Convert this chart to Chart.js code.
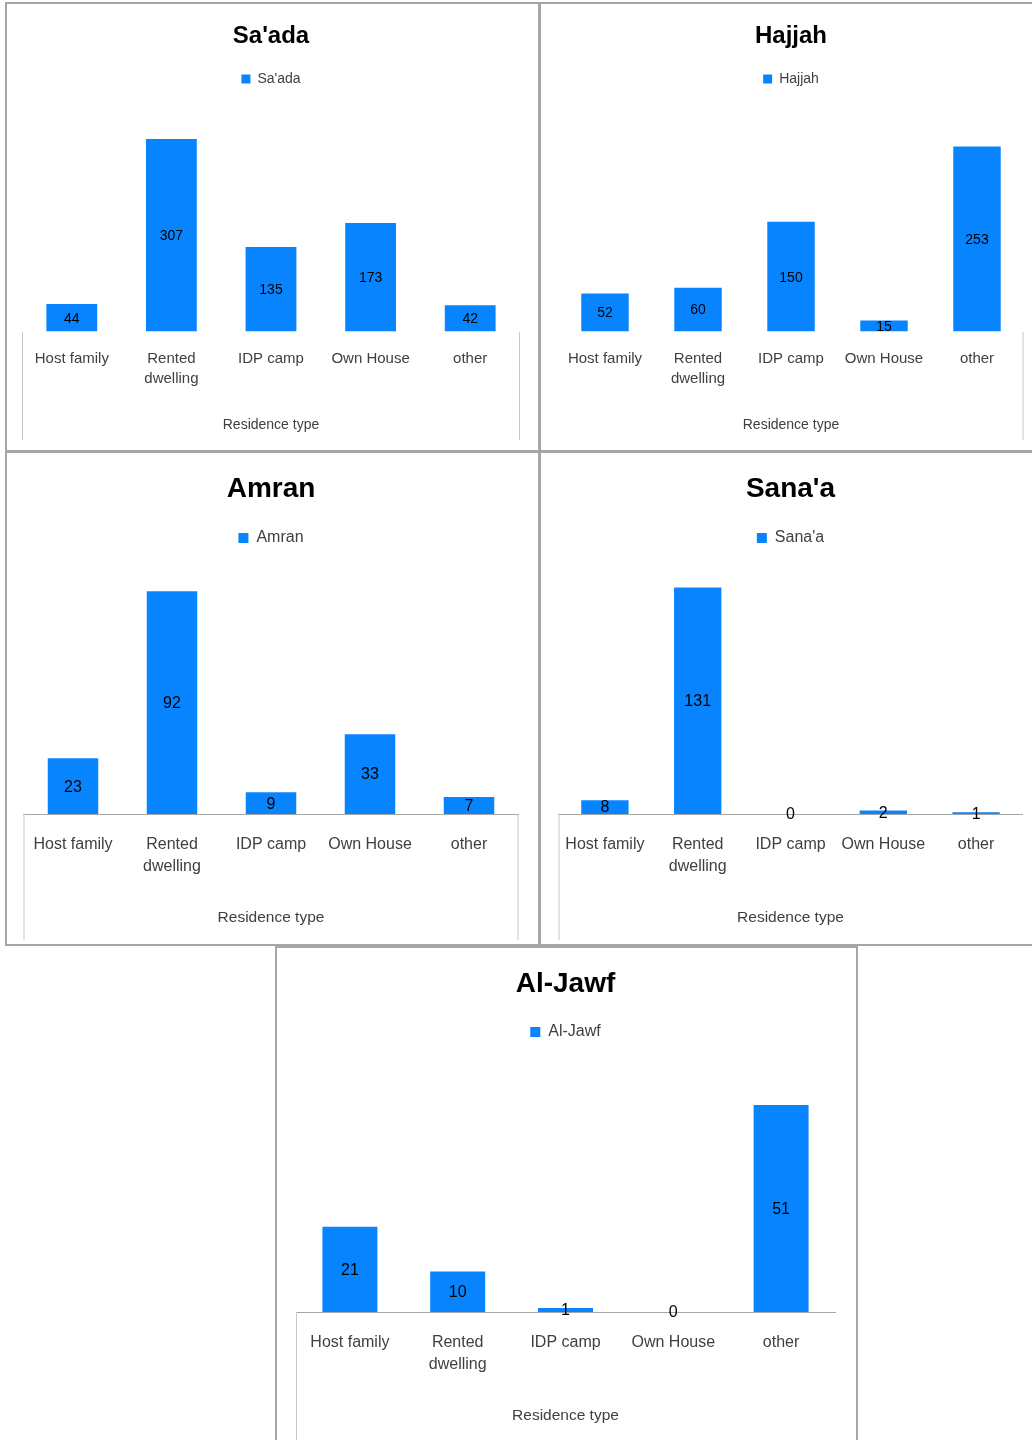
<!DOCTYPE html>
<html>
<head>
<meta charset="utf-8">
<script src="https://cdn.jsdelivr.net/npm/chart.js"></script>
<style>
  body { margin: 0; width: 1032px; height: 1440px; overflow: hidden; background: #fff; position: relative; }
  .panel { position: absolute; box-sizing: border-box; border: 2px solid #a6a6a6; background: #fff; }
  .panel canvas { display: block; }
</style>
</head>
<body>
<div class="panel" style="left:5px;top:2px;width:535px;height:450px"><canvas id="saada" width="531" height="446"></canvas></div>
<div class="panel" style="left:539px;top:2px;width:500px;height:450px"><canvas id="hajjah" width="496" height="446"></canvas></div>
<div class="panel" style="left:5px;top:451px;width:535px;height:495px"><canvas id="amran" width="531" height="491"></canvas></div>
<div class="panel" style="left:539px;top:451px;width:500px;height:495px"><canvas id="sanaa" width="496" height="491"></canvas></div>
<div class="panel" style="left:275px;top:946px;width:583px;height:500px"><canvas id="aljawf" width="579" height="496"></canvas></div>
<script>
const categories = ['Host family', ['Rented', 'dwelling'], 'IDP camp', 'Own House', 'other'];
const saadaValues = [44, 307, 135, 173, 42];
const hajjahValues = [52, 60, 150, 15, 253];
const amranValues = [23, 92, 9, 33, 7];
const sanaaValues = [8, 131, 0, 2, 1];
const aljawfValues = [21, 10, 1, 0, 51];

const barColor = '#0884ff';
const fontFamily = "'Liberation Sans', Arial, sans-serif";

// value labels in the middle of each bar
const valueLabels = {
    id: 'valueLabels',
    afterDatasetsDraw(chart, args, opts) {
        const ctx = chart.ctx;
        ctx.save();
        ctx.font = opts.size + 'px ' + fontFamily;
        ctx.fillStyle = '#000';
        ctx.textAlign = 'center';
        ctx.textBaseline = 'middle';
        chart.getDatasetMeta(0).data.forEach((bar, i) => {
            const v = chart.data.datasets[0].data[i];
            ctx.fillText(v, bar.x, (bar.y + bar.base) / 2 + 1);
        });
        ctx.restore();
    }
};

// thin lines framing the category-label area below the plot
const axisFrame = {
    id: 'axisFrame',
    afterDraw(chart, args, opts) {
        const ctx = chart.ctx;
        const area = chart.chartArea;
        ctx.save();
        ctx.strokeStyle = '#c8c8c8';
        ctx.lineWidth = 1;
        if (opts.left) {
            ctx.beginPath();
            ctx.moveTo(area.left + 0.5, area.bottom);
            ctx.lineTo(area.left + 0.5, opts.bottom);
            ctx.stroke();
        }
        if (opts.right) {
            ctx.beginPath();
            ctx.moveTo(area.right - 0.5, area.bottom);
            ctx.lineTo(area.right - 0.5, opts.bottom);
            ctx.stroke();
        }
        ctx.restore();
    }
};

function makeChart(id, name, values, yMax, s) {
    return new Chart(document.getElementById(id).getContext('2d'), {
        type: 'bar',
        data: {
            labels: categories,
            datasets: [{
                label: name,
                data: values,
                backgroundColor: barColor,
                borderWidth: 0,
                barPercentage: 0.51,
                categoryPercentage: 1
            }]
        },
        options: {
            responsive: false,
            animation: false,
            events: [],
            layout: { padding: { left: s.left, right: s.right, top: 0, bottom: s.bottom } },
            scales: {
                x: {
                    grid: { display: false, drawTicks: false },
                    border: { display: s.axisLine, color: '#a6a6a6', width: 1 },
                    ticks: {
                        color: '#404040',
                        font: { family: fontFamily, size: s.tick, lineHeight: s.tickLh },
                        padding: s.tickPad,
                        maxRotation: 0,
                        autoSkip: false
                    },
                    title: {
                        display: true,
                        text: 'Residence type',
                        color: '#404040',
                        font: { family: fontFamily, size: s.axisTitle, lineHeight: 1.2 },
                        padding: { top: s.axisTitlePad, bottom: 0 }
                    }
                },
                y: { display: false, min: 0, max: yMax }
            },
            plugins: {
                title: {
                    display: true,
                    text: name,
                    color: '#000',
                    font: { family: fontFamily, size: s.title, weight: 'bold', lineHeight: 1.2 },
                    padding: { top: s.titlePad, bottom: 0 }
                },
                legend: {
                    display: true,
                    labels: {
                        color: '#404040',
                        font: { family: fontFamily, size: s.legend },
                        boxWidth: s.box,
                        boxHeight: s.box,
                        padding: s.legendPad
                    }
                },
                subtitle: {
                    display: true,
                    text: '',
                    weight: 500,
                    font: { size: 1, lineHeight: 1 },
                    padding: { top: s.gap, bottom: 0 }
                },
                tooltip: { enabled: false },
                valueLabels: { size: s.value },
                axisFrame: { left: s.frameLeft, right: s.frameRight, bottom: s.frameBottom }
            }
        },
        plugins: [valueLabels, axisFrame]
    });
}

const topRow = {
    title: 24, titlePad: 17.6, legend: 14, box: 9, legendPad: 21.6, gap: 15,
    tick: 15, tickLh: 20 / 15, tickPad: 17, axisTitle: 14, axisTitlePad: 11,
    value: 14, axisLine: false, frameBottom: 436
};
const lowRow = {
    title: 28, titlePad: 19.2, legend: 16, box: 10, legendPad: 24.2, gap: 15,
    tick: 16, tickLh: 22 / 16, tickPad: 20, axisTitle: 15.5, axisTitlePad: 10.7,
    value: 16, axisLine: true, frameBottom: 487
};

makeChart('saada', "Sa'ada", saadaValues, 350,
    Object.assign({}, topRow, { left: 15, right: 18, bottom: 16.6, frameLeft: true, frameRight: true }));
makeChart('hajjah', 'Hajjah', hajjahValues, 300,
    Object.assign({}, topRow, { left: 17.5, right: 13.5, bottom: 16.6, frameLeft: false, frameRight: true }));
makeChart('amran', 'Amran', amranValues, 100,
    Object.assign({}, lowRow, { left: 16.5, right: 19.5, bottom: 16.7, frameLeft: true, frameRight: true }));
makeChart('sanaa', "Sana'a", sanaaValues, 140,
    Object.assign({}, lowRow, { left: 17.5, right: 14.5, bottom: 16.7, frameLeft: true, frameRight: false }));
makeChart('aljawf', 'Al-Jawf', aljawfValues, 60,
    Object.assign({}, lowRow, { legendPad: 23.2, gap: 17.5, left: 19, right: 21, bottom: 18.7,
        frameLeft: true, frameRight: false, frameBottom: 496 }));
</script>
</body>
</html>
